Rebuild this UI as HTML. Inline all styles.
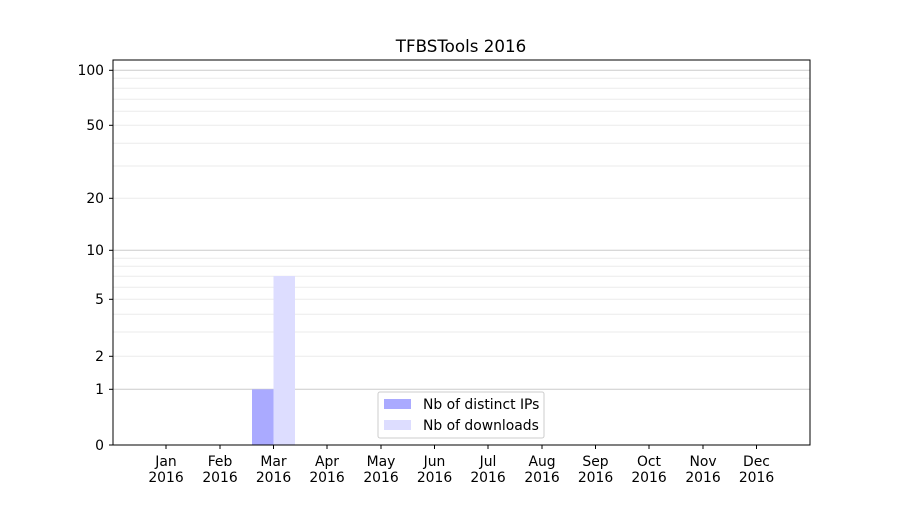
<!DOCTYPE html>
<html><head><style>body{margin:0;background:#fff}</style></head><body>
<svg width="900" height="500" xmlns="http://www.w3.org/2000/svg" font-family="DejaVu Sans, Liberation Sans, sans-serif" font-size="13.9">
<rect width="900" height="500" fill="#fff"/>
<g stroke="#ebebeb" stroke-width="1">
<line x1="113" x2="810" y1="314.3" y2="314.3"/><line x1="113" x2="810" y1="332" y2="332"/>
<line x1="113" x2="810" y1="287.3" y2="287.3"/><line x1="113" x2="810" y1="276.3" y2="276.3"/>
<line x1="113" x2="810" y1="266.3" y2="266.3"/><line x1="113" x2="810" y1="258.3" y2="258.3"/>
<line x1="113" x2="810" y1="166" y2="166"/><line x1="113" x2="810" y1="143.3" y2="143.3"/>
<line x1="113" x2="810" y1="111.3" y2="111.3"/><line x1="113" x2="810" y1="99.3" y2="99.3"/>
<line x1="113" x2="810" y1="88.3" y2="88.3"/><line x1="113" x2="810" y1="78.3" y2="78.3"/>
<line x1="113" x2="810" y1="356.3" y2="356.3"/><line x1="113" x2="810" y1="299.3" y2="299.3"/>
<line x1="113" x2="810" y1="198.3" y2="198.3"/><line x1="113" x2="810" y1="125.3" y2="125.3"/>
</g>
<g stroke="#cccccc" stroke-width="1">
<line x1="113" x2="810" y1="389.3" y2="389.3"/><line x1="113" x2="810" y1="250.3" y2="250.3"/><line x1="113" x2="810" y1="70.3" y2="70.3"/>
</g>
<rect x="252" y="389.3" width="21.5" height="55.7" fill="#aaaaff"/>
<rect x="273.5" y="276" width="21.5" height="169" fill="#ddddff"/>
<rect x="113" y="60" width="697" height="385" fill="none" stroke="#000" stroke-width="1"/>
<g stroke="#000">
<line x1="109" x2="113" y1="445" y2="445"/><line x1="109" x2="113" y1="389.3" y2="389.3"/><line x1="109" x2="113" y1="356.3" y2="356.3"/><line x1="109" x2="113" y1="299.3" y2="299.3"/><line x1="109" x2="113" y1="250.3" y2="250.3"/><line x1="109" x2="113" y1="198.3" y2="198.3"/><line x1="109" x2="113" y1="125.3" y2="125.3"/><line x1="109" x2="113" y1="70.3" y2="70.3"/>
</g>
<g text-anchor="end" fill="#000">
<text x="104" y="450">0</text><text x="104" y="394">1</text><text x="104" y="361">2</text><text x="104" y="304">5</text><text x="104" y="255">10</text><text x="104" y="203">20</text><text x="104" y="130">50</text><text x="104" y="75">100</text>
</g>
<text x="461" y="52" text-anchor="middle" font-size="16.7">TFBSTools 2016</text>
<rect x="378" y="392" width="166" height="46" fill="#fff" fill-opacity="0.8" stroke="#ccc" rx="2"/>
<rect x="384" y="399" width="27" height="10" fill="#aaaaff"/>
<rect x="384" y="420" width="27" height="10" fill="#ddddff"/>
<text x="423" y="409">Nb of distinct IPs</text>
<text x="423" y="430">Nb of downloads</text>
<g stroke="#000">
<line x1="166" x2="166" y1="445" y2="449"/><line x1="220" x2="220" y1="445" y2="449"/><line x1="273.5" x2="273.5" y1="445" y2="449"/><line x1="327" x2="327" y1="445" y2="449"/><line x1="381" x2="381" y1="445" y2="449"/><line x1="434.5" x2="434.5" y1="445" y2="449"/><line x1="488" x2="488" y1="445" y2="449"/><line x1="542" x2="542" y1="445" y2="449"/><line x1="595.5" x2="595.5" y1="445" y2="449"/><line x1="649" x2="649" y1="445" y2="449"/><line x1="703" x2="703" y1="445" y2="449"/><line x1="756.5" x2="756.5" y1="445" y2="449"/>
</g>
<g text-anchor="middle" fill="#000">
<text x="166" y="466">Jan</text><text x="166" y="482">2016</text>
<text x="220" y="466">Feb</text><text x="220" y="482">2016</text>
<text x="273.5" y="466">Mar</text><text x="273.5" y="482">2016</text>
<text x="327" y="466">Apr</text><text x="327" y="482">2016</text>
<text x="381" y="466">May</text><text x="381" y="482">2016</text>
<text x="434.5" y="466">Jun</text><text x="434.5" y="482">2016</text>
<text x="488" y="466">Jul</text><text x="488" y="482">2016</text>
<text x="542" y="466">Aug</text><text x="542" y="482">2016</text>
<text x="595.5" y="466">Sep</text><text x="595.5" y="482">2016</text>
<text x="649" y="466">Oct</text><text x="649" y="482">2016</text>
<text x="703" y="466">Nov</text><text x="703" y="482">2016</text>
<text x="756.5" y="466">Dec</text><text x="756.5" y="482">2016</text>
</g>
</svg>
</body></html>
